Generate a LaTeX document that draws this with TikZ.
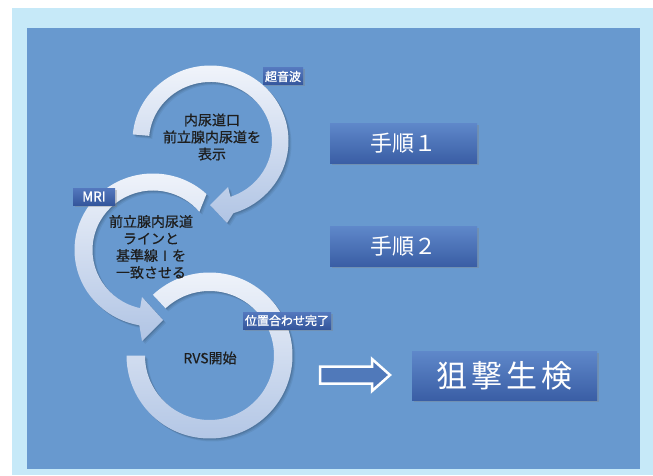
\documentclass[tikz,border=0pt]{standalone}
\usepackage{fontspec}
\setmainfont{Noto Sans CJK JP}
\newfontfamily\medfont[FakeBold=0.6]{Noto Sans CJK JP}
\newfontfamily\tagfont[FakeBold=1.2]{Noto Sans CJK JP}
\usetikzlibrary{shadows}
\definecolor{framecol}{HTML}{C6E9F8}
\definecolor{bgcol}{HTML}{6899CF}
\definecolor{ringtop}{HTML}{F2F5FB}
\definecolor{ringbot}{HTML}{B0C4E4}
\definecolor{boxtop}{HTML}{5F88CA}
\definecolor{boxbot}{HTML}{3A5EA5}
\definecolor{tagtop}{HTML}{5478BE}
\definecolor{tagbot}{HTML}{34569C}
\definecolor{txtcol}{HTML}{1E1E1E}
\definecolor{arrowfill}{HTML}{5079BA}

\newcommand\RingOnePath{(175:78 and 75.5) arc[start angle=175,end angle=-73,x radius=78,y radius=75.5] -- (16.5,-82) -- (-0.5,-64) -- (17.5,-46) -- (-71:61.5 and 59) arc[start angle=-71,end angle=175,x radius=61.5,y radius=59] -- cycle}
\newcommand\RingTwoPath{(47:78.5 and 76.5) arc[start angle=47,end angle=260,x radius=78.5,y radius=76.5] -- (-11,-91) -- (10,-70) -- (-11,-47) -- (257.7:60.5 and 59.5) arc[start angle=257.7,end angle=40,x radius=60.5,y radius=59.5] -- cycle}
\newcommand\RingThreePath{(133:83) arc[start angle=133,end angle=-180,radius=83] -- (180:64.5) arc[start angle=-180,end angle=133,radius=64.5] -- cycle}

\tikzset{
  ringtext/.style={text=txtcol, align=center, font=\medfont\fontsize{14}{17}\selectfont, inner sep=0},
  tag/.style={top color=tagtop, bottom color=tagbot, text=white, inner sep=0,
    minimum height=17, font=\tagfont\fontsize{12}{13}\selectfont,
    drop shadow={shadow xshift=1.5pt, shadow yshift=-1.5pt, opacity=0.35}},
  stepbox/.style={top color=boxtop, bottom color=boxbot, text=white, inner sep=0,
    minimum width=147, minimum height=40, font=\fontsize{22}{26}\selectfont,
    drop shadow={shadow xshift=2pt, shadow yshift=-2pt, opacity=0.35}},
  ringshade/.style={top color=ringtop, bottom color=ringbot},
}

\begin{document}
\begin{tikzpicture}[x=1pt,y=1pt]
\useasboundingbox (0,0) rectangle (653,475);
\fill[white] (0,0) rectangle (653,475);
\fill[framecol] (12,0) rectangle (653,467);
\fill[bgcol] (27,6) rectangle (640,447);

% ring 3
\begin{scope}[shift={(209.5,119.5)}]
  \foreach \s/\o in {3/0.06,2/0.08,1/0.1} \fill[black, opacity=\o, shift={(\s,-\s)}] \RingThreePath;
  \shade[ringshade] \RingThreePath;
\end{scope}
% ring 2
\begin{scope}[shift={(153,225)}]
  \foreach \s/\o in {3/0.06,2/0.08,1/0.1} \fill[black, opacity=\o, shift={(\s,-\s)}] \RingTwoPath;
  \shade[ringshade] \RingTwoPath;
\end{scope}
% ring 1
\begin{scope}[shift={(210.5,334)}]
  \foreach \s/\o in {3/0.06,2/0.08,1/0.1} \fill[black, opacity=\o, shift={(\s,-\s)}] \RingOnePath;
  \shade[ringshade] \RingOnePath;
\end{scope}

\node[ringtext] (t1) at (212,338) {内尿道口\\前立腺内尿道を\\表示};
\node[ringtext] (t2) at (151,228) {前立腺内尿道\\ラインと\\基準線Ⅰを\\一致させる};
\node[ringtext] (t3) at (210,117) {RVS開始};

\node[tag, minimum width=40] (us) at (283,398.5) {超音波};
\node[tag, minimum width=42, font=\tagfont\fontsize{13.5}{14}\selectfont] (mri) at (94,278.5) {MRI};
\node[tag, minimum width=88] (done) at (287,154.5) {位置合わせ完了};

\node[stepbox] (s1) at (403.5,332) {手順１};
\node[stepbox] (s2) at (403.5,229) {手順２};
\node[stepbox, minimum width=185, minimum height=49, font=\fontsize{31}{34}\selectfont] (bx) at (504.5,99.5) {狙\kern4pt 撃\kern4pt 生\kern4pt 検};

\draw[white, line width=2.5, fill=arrowfill, line join=miter]
  (320,108.5) -- (372,108.5) -- (372,116) -- (390,100) -- (372,84) -- (372,91.5) -- (320,91.5) -- cycle;
\end{tikzpicture}
\end{document}
